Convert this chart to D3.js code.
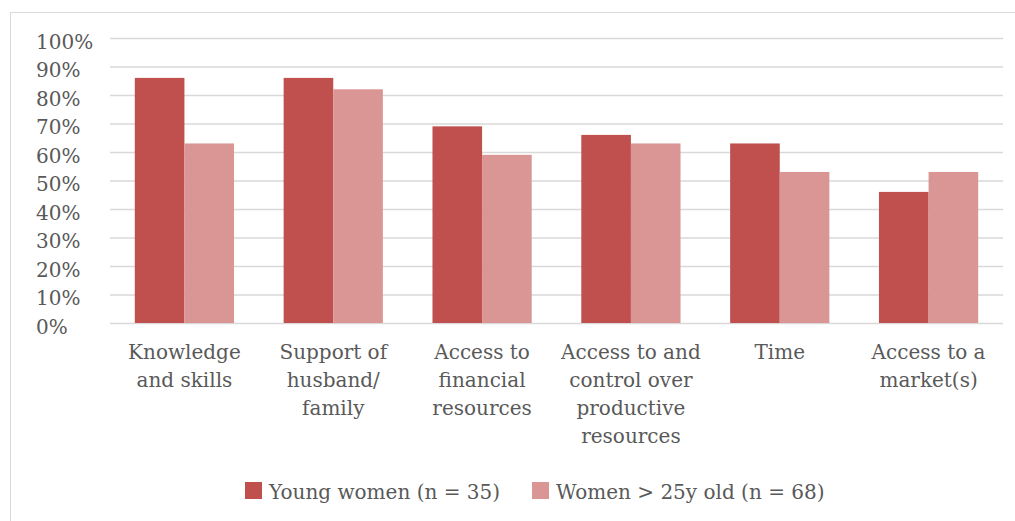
<!DOCTYPE html>
<html>
<head>
<meta charset="utf-8">
<script src="https://cdn.jsdelivr.net/npm/d3@7"></script>
<style>
  html, body { margin: 0; padding: 0; background: #fff; }
  svg { display: block; }
</style>
</head>
<body>
<svg id="chart" width="1015" height="521"></svg>
<script>
const categories = [
  "Knowledge and skills",
  "Support of husband/ family",
  "Access to financial resources",
  "Access to and control over productive resources",
  "Time",
  "Access to a market(s)"
];
const categoryLines = [
  ["Knowledge", "and skills"],
  ["Support of", "husband/", "family"],
  ["Access to", "financial", "resources"],
  ["Access to and", "control over", "productive", "resources"],
  ["Time"],
  ["Access to a", "market(s)"]
];
const seriesNames = ["Young women (n = 35)", "Women > 25y old (n = 68)"];
const youngWomen = [0.86, 0.86, 0.69, 0.66, 0.63, 0.46];
const olderWomen = [0.63, 0.82, 0.59, 0.63, 0.53, 0.53];
const yTicks = [0, 0.1, 0.2, 0.3, 0.4, 0.5, 0.6, 0.7, 0.8, 0.9, 1.0];
const colors = ["#C0504D", "#D99694"];

(function () {
const font = "'DejaVu Serif', serif";
const textColor = "#595959";
const svg = d3.select("#chart");

// outer chart frame
svg.append("rect")
  .attr("x", 10.5).attr("y", 12.5)
  .attr("width", 1100).attr("height", 600)
  .attr("fill", "none").attr("stroke", "#d9d9d9").attr("stroke-width", 1);

const pLeft = 110, pRight = 1003, pTop = 38, pBottom = 323;

const x = d3.scaleBand().domain(categories).range([pLeft, pRight]).padding(0);
const xs = d3.scaleBand().domain(seriesNames).range([0, x.bandwidth()])
  .paddingInner(0).paddingOuter(0.5);
const y = d3.scaleLinear().domain([0, 1]).range([pBottom, pTop]);

// y axis with gridlines
const yAxis = svg.append("g")
  .attr("transform", `translate(${pLeft},0)`)
  .call(d3.axisLeft(y).tickValues(yTicks).tickFormat(d3.format(".0%")).tickSize(-(pRight - pLeft)).tickPadding(0));
yAxis.select(".domain").remove();
yAxis.selectAll(".tick line").attr("stroke", "#d9d9d9").attr("stroke-width", 1.3);
yAxis.selectAll(".tick text")
  .attr("x", 36 - pLeft)
  .attr("dy", 10)
  .attr("text-anchor", "start")
  .attr("fill", textColor)
  .style("font-family", font)
  .style("font-size", "20px");

// bars
const series = [youngWomen, olderWomen];
series.forEach((vals, si) => {
  svg.append("g").selectAll("rect")
    .data(vals)
    .join("rect")
    .attr("x", (d, i) => x(categories[i]) + xs(seriesNames[si]))
    .attr("y", d => y(d))
    .attr("width", xs.bandwidth())
    .attr("height", d => y(0) - y(d))
    .attr("fill", colors[si]);
});

// x axis labels
const xAxis = svg.append("g")
  .attr("transform", `translate(0,${pBottom})`)
  .call(d3.axisBottom(x).tickSize(0).tickFormat(""));
xAxis.select(".domain").remove();
xAxis.selectAll(".tick text").remove();
xAxis.selectAll(".tick").each(function(d, i) {
  const t = d3.select(this).append("text")
    .attr("text-anchor", "middle")
    .attr("fill", textColor)
    .style("font-family", font)
    .style("font-size", "20px");
  categoryLines[i].forEach((line, li) => {
    t.append("tspan").attr("x", 0).attr("y", 36 + li * 28).text(line);
  });
});

// legend
const legend = svg.append("g");
const legendX = [245, 532];
seriesNames.forEach((name, i) => {
  legend.append("rect")
    .attr("x", legendX[i]).attr("y", 482)
    .attr("width", 17).attr("height", 17)
    .attr("fill", colors[i]);
  legend.append("text")
    .attr("x", legendX[i] + 24).attr("y", 499)
    .attr("fill", textColor)
    .style("font-family", font)
    .style("font-size", "20px")
    .text(name);
});
})();
</script>
</body>
</html>
